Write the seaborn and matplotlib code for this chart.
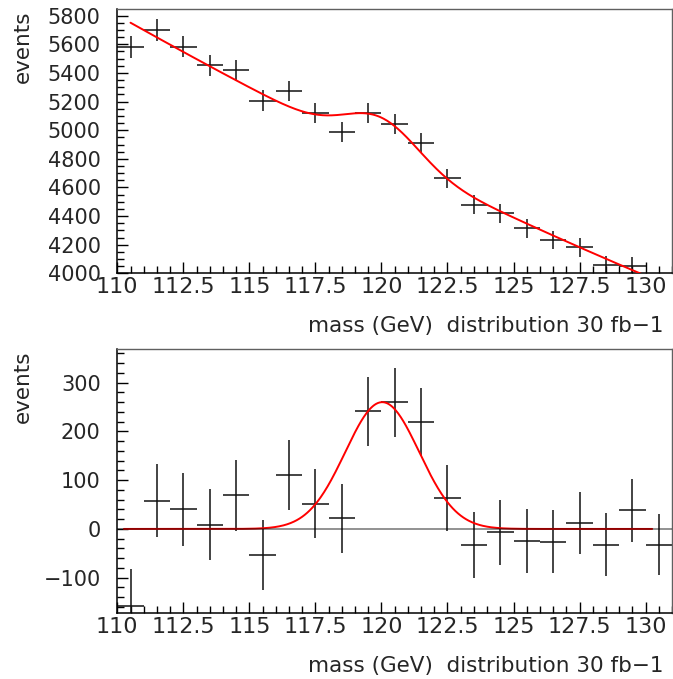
import numpy as np
import pandas as pd
import matplotlib
matplotlib.use("Agg")
import matplotlib.pyplot as plt
import seaborn as sns
from matplotlib.ticker import MultipleLocator, FuncFormatter

# ---- data ----
mass = [110.5, 111.5, 112.5, 113.5, 114.5, 115.5, 116.5, 117.5, 118.5, 119.5,
        120.5, 121.5, 122.5, 123.5, 124.5, 125.5, 126.5, 127.5, 128.5, 129.5, 130.5]
events_total = [5583, 5700, 5583, 5455, 5420, 5207, 5275, 5118, 4989, 5118,
                5042, 4908, 4664, 4480, 4419, 4314, 4233, 4181, 4056, 4049, 3910]
events_err = [75, 75, 74, 73, 73, 72, 72, 71, 71, 71,
              71, 70, 68, 67, 66, 65, 65, 64, 64, 64, 63]
events_signal = [-158, 58, 40, 9, 69, -54, 110, 52, 22, 241,
                 260, 219, 64, -33, -7, -25, -26, 12, -32, 38, -32]
bin_half_width = 0.5

# fitted model (gaussian signal on quadratic background around 120 GeV)
sig_amp, sig_mean, sig_sigma = 260.0, 120.03, 1.4
bkg_c0, bkg_c1, bkg_c2 = 4828.0, -91.0, 0.65

xlabel_text = "mass (GeV)  distribution 30 fb\u22121"
ylabel_text = "events"

df = pd.DataFrame({"mass": mass, "total": events_total,
                   "err": events_err, "signal": events_signal})


def signal(x):
    return sig_amp * np.exp(-0.5 * ((x - sig_mean) / sig_sigma) ** 2)


def background(x):
    d = x - 120.0
    return bkg_c0 + bkg_c1 * d + bkg_c2 * d * d


x_top = np.linspace(110.5, 130.5, 600)
x_bot = np.linspace(110.25, 130.25, 600)

sns.set_style("white")
plt.rcParams["font.family"] = ["DejaVu Sans"]

W, H = 673, 679
fig = plt.figure(figsize=(W / 100, H / 100), dpi=100)

left = 117.3 / W
width = (672.0 - 117.3) / W
ax_h = (273.3 - 9.0) / H
ax_top = fig.add_axes([left, 1 - 273.3 / H, width, ax_h])
ax_bot = fig.add_axes([left, 1 - 613.3 / H, width, ax_h])


def style(ax, ymajor, yminor):
    ax.set_xlim(110, 131)
    ax.xaxis.set_major_locator(MultipleLocator(2.5))
    ax.xaxis.set_minor_locator(MultipleLocator(0.5))
    ax.yaxis.set_major_locator(MultipleLocator(ymajor))
    ax.yaxis.set_minor_locator(MultipleLocator(yminor))
    ax.xaxis.set_major_formatter(FuncFormatter(lambda v, p: f"{v:g}"))
    ax.yaxis.set_major_formatter(FuncFormatter(
        lambda v, p: f"{v:g}".replace("-", "\u2212")))
    ax.tick_params(which="both", direction="in", top=False, right=False,
                   bottom=True, left=True, color="black", width=1.0)
    ax.tick_params(which="major", length=8.0)
    ax.tick_params(which="minor", length=4.8)
    ax.tick_params(axis="x", which="major", labelsize=16, pad=3)
    ax.tick_params(axis="y", which="major", labelsize=15, pad=12)
    for s in ["left", "bottom"]:
        ax.spines[s].set_color("black")
        ax.spines[s].set_linewidth(1.1)
    for s in ["top", "right"]:
        ax.spines[s].set_color("#606060")
        ax.spines[s].set_linewidth(1.0)
    ax.set_xlabel(xlabel_text, fontsize=15.5, loc="right")
    ax.xaxis.label.set_va("baseline")
    ax.xaxis.set_label_coords(0.984, -58.4 / 264.3)
    ax.set_ylabel(ylabel_text, fontsize=15.5, loc="top")
    ax.yaxis.label.set_va("baseline")
    ax.yaxis.set_label_coords(-0.160, 0.996)


# ---- top panel ----
ax_top.errorbar(df["mass"], df["total"], xerr=bin_half_width, yerr=df["err"],
                fmt="none", ecolor="#111111", elinewidth=1.1, capsize=0, zorder=2)
sns.lineplot(x=x_top, y=background(x_top) + signal(x_top), ax=ax_top,
             color="#ff0000", lw=1.4, zorder=3)
ax_top.set_ylim(4000, 5847)
style(ax_top, 200, 50)

# ---- bottom panel ----
ax_bot.errorbar(df["mass"], df["signal"], xerr=bin_half_width, yerr=df["err"],
                fmt="none", ecolor="#111111", elinewidth=1.1, capsize=0, zorder=2)
sns.lineplot(x=x_bot, y=signal(x_bot), ax=ax_bot,
             color="#ff0000", lw=1.4, zorder=3)
ax_bot.axhline(0, color="black", alpha=0.5, lw=1.2, zorder=4)
ax_bot.set_ylim(-173, 369)
style(ax_bot, 100, 20)

fig.savefig("out.png", dpi=100)
